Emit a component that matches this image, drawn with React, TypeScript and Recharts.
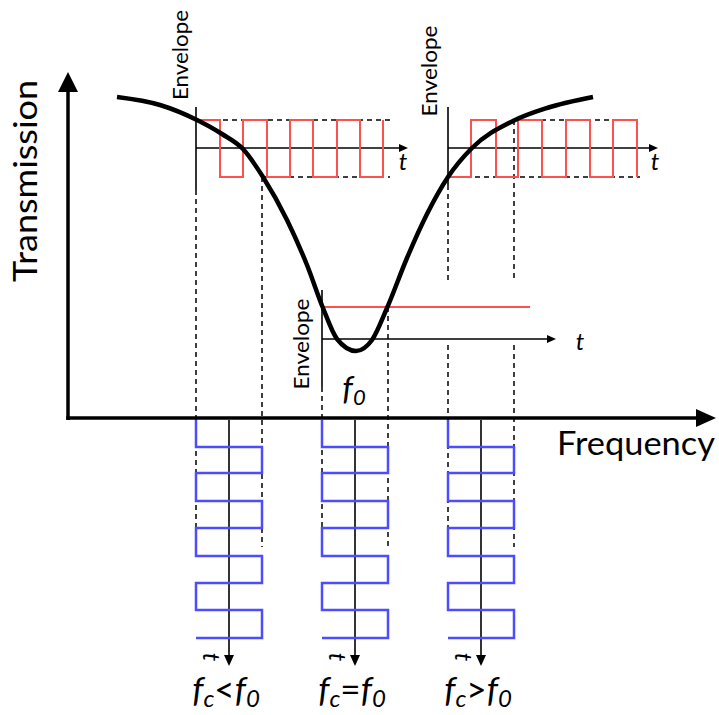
import { ComposedChart, XAxis, YAxis, Line, Scatter } from "recharts";

const W = 719;
const H = 715;

// diagram units: x to the right, y downward (same span as the picture)
const curveX = [117, 160, 197, 222, 243, 263, 287, 307, 323, 337, 356, 372, 387, 407, 427, 448, 472, 513, 547, 593];
const curveY = [97, 105, 120, 134, 149, 177, 220, 265, 308, 339, 351, 340, 308, 258, 214, 177, 148, 121, 108, 97];

// envelope insets
const envHigh = 120;
const envLow = 177;
const envAxisY = 148;
const edgesBelow = [220, 243, 267, 290, 313, 337, 360, 383]; // fc<f0, starts high
const edgesAbove = [471, 496, 518, 542, 566, 590, 613, 637]; // fc>f0, starts low
const steadyY = 307;
const steadyEnd = 530;

// carrier, time running downward
const blueRows = [420, 447, 473, 501, 528, 556, 583, 610, 638];
const colLeft = [196, 322, 448];
const colRight = [262, 388, 514];
const colAxis = [229, 355, 481];
const colSign = ["<", "=", ">"];

// [x, y1, y2]
const dashedV = [
  [196, 190, 557],
  [262, 177, 547],
  [322, 387, 557],
  [388, 307, 547],
  [448, 185, 280],
  [448, 345, 557],
  [514, 120, 280],
  [514, 345, 547],
];
// [x1, x2, y]
const dashedH = [
  [196, 390, envHigh],
  [262, 390, envLow],
  [514, 640, envHigh],
  [448, 640, envLow],
];

type P = { x: number; y: number };

function seg(x1: number, y1: number, x2: number, y2: number): P[] {
  return [{ x: x1, y: y1 }, { x: x2, y: y2 }];
}

function squareWave(x0: number, startHigh: boolean, edges: number[]): P[] {
  let high = startHigh;
  const pts: P[] = [{ x: x0, y: high ? envHigh : envLow }];
  edges.forEach((e) => {
    pts.push({ x: e, y: high ? envHigh : envLow });
    high = !high;
    pts.push({ x: e, y: high ? envHigh : envLow });
  });
  return pts;
}

function zigzag(left: number, right: number): P[] {
  let side = left;
  const pts: P[] = [{ x: left, y: blueRows[0] }];
  blueRows.slice(1).forEach((r) => {
    pts.push({ x: side, y: r });
    side = side === left ? right : left;
    pts.push({ x: side, y: r });
  });
  return pts;
}

const curve = curveX.map((x, i) => ({ x, y: curveY[i] }));

const thinAxes: P[][] = [
  seg(196, 107, 196, 190),
  seg(196, envAxisY, 402, envAxisY),
  seg(448, 107, 448, 185),
  seg(448, envAxisY, 652, envAxisY),
  seg(322, 290, 322, 387),
  seg(322, 339, 550, 339),
  ...colAxis.map((x) => seg(x, 420, x, 657)),
];

const arrows = [
  { x: 68, y: 72, dir: "up", len: 20, half: 10 },
  { x: 716, y: 418, dir: "right", len: 20, half: 9 },
  { x: 408, y: envAxisY, dir: "right", len: 9, half: 4 },
  { x: 658, y: envAxisY, dir: "right", len: 9, half: 4 },
  { x: 556, y: 339, dir: "right", len: 9, half: 4 },
  ...colAxis.map((x) => ({ x, y: 666, dir: "down", len: 11, half: 5 })),
];

const labels = [
  { x: 37, y: 181, text: "Transmission", size: 33, rot: -90, len: 202, italic: false },
  { x: 636, y: 455, text: "Frequency", size: 32, rot: 0, len: 158, italic: false },
  { x: 188, y: 55, text: "Envelope", size: 21, rot: -90, len: 90, italic: false },
  { x: 437, y: 71, text: "Envelope", size: 21, rot: -90, len: 91, italic: false },
  { x: 309, y: 344, text: "Envelope", size: 21, rot: -90, len: 91, italic: false },
  { x: 403, y: 170, text: "t", size: 24, rot: 0, len: 0, italic: true },
  { x: 655, y: 170, text: "t", size: 24, rot: 0, len: 0, italic: true },
  { x: 580, y: 350, text: "t", size: 24, rot: 0, len: 0, italic: true },
  ...colAxis.map((x) => ({ x: x - 17, y: 657, text: "t", size: 24, rot: 90, len: 0, italic: true })),
];

const formulas = [
  { x: 354, y: 400, main: "f", sub: "0", rest: "", size: 33 },
  ...colAxis.map((x, i) => ({ x: x - 3, y: 702, main: "f", sub: "c", rest: colSign[i], size: 35 })),
];

const font = "Lato, 'Open Sans', sans-serif";

function ArrowHead(props: any) {
  const { cx, cy, payload } = props;
  const { dir, len, half } = payload;
  let pts = "";
  if (dir === "up") pts = `${cx},${cy} ${cx - half},${cy + len} ${cx + half},${cy + len}`;
  if (dir === "down") pts = `${cx},${cy} ${cx - half},${cy - len} ${cx + half},${cy - len}`;
  if (dir === "right") pts = `${cx},${cy} ${cx - len},${cy - half} ${cx - len},${cy + half}`;
  return <polygon points={pts} fill="#000" />;
}

function Label(props: any) {
  const { cx, cy, payload } = props;
  return (
    <text
      x={cx}
      y={cy}
      textAnchor="middle"
      dominantBaseline={payload.rot === 90 ? "central" : undefined}
      fontFamily={font}
      fontSize={payload.size}
      fontStyle={payload.italic ? "italic" : "normal"}
      fill="#000"
      transform={payload.rot ? `rotate(${payload.rot} ${cx} ${cy})` : undefined}
      {...(payload.len ? { textLength: payload.len, lengthAdjust: "spacingAndGlyphs" } : {})}
    >
      {payload.text}
    </text>
  );
}

function Formula(props: any) {
  const { cx, cy, payload } = props;
  const s = payload.size;
  const sub = Math.round(s * 0.68);
  return (
    <text x={cx} y={cy} textAnchor="middle" fontFamily={font} fontStyle="italic" fontSize={s} fill="#000">
      <tspan>f</tspan>
      <tspan fontSize={sub} dy={5}>{payload.sub}</tspan>
      {payload.rest ? (
        <>
          <tspan dy={-5} fontStyle="normal">{payload.rest}</tspan>
          <tspan>f</tspan>
          <tspan fontSize={sub} dy={5}>0</tspan>
        </>
      ) : null}
    </text>
  );
}

function lineProps(key: string, data: P[], stroke: string, width: number, dash?: string) {
  return {
    key,
    data,
    dataKey: "y",
    type: "linear" as const,
    stroke,
    strokeWidth: width,
    strokeDasharray: dash,
    dot: false,
    activeDot: false,
    isAnimationActive: false,
    legendType: "none" as const,
  };
}

export default function App() {
  return (
    <div style={{ position: "absolute", left: 0, top: 0, width: W, height: H, background: "#fff" }}>
      <ComposedChart width={W} height={H} margin={{ top: 0, right: 0, bottom: 0, left: 0 }}>
        <XAxis hide type="number" dataKey="x" domain={[0, W]} allowDataOverflow />
        <YAxis hide type="number" dataKey="y" domain={[0, H]} reversed allowDataOverflow />

        {dashedV.map(([x, y1, y2], i) => (
          <Line {...lineProps(`dv${i}`, seg(x, y1, x, y2), "#000", 1.5, "5 4")} />
        ))}
        {dashedH.map(([x1, x2, y], i) => (
          <Line {...lineProps(`dh${i}`, seg(x1, y, x2, y), "#000", 1.5, "5 4")} />
        ))}

        {thinAxes.map((d, i) => (
          <Line {...lineProps(`ax${i}`, d, "#000", 1.6)} />
        ))}

        <Line {...lineProps("redBelow", squareWave(196, true, edgesBelow), "#ff5050", 2)} />
        <Line {...lineProps("redAbove", squareWave(448, false, edgesAbove), "#ff5050", 2)} />
        <Line {...lineProps("redSteady", seg(322, steadyY, steadyEnd, steadyY), "#ff5050", 2.2)} />

        {colLeft.map((l, i) => (
          <Line {...lineProps(`blue${i}`, zigzag(l, colRight[i]), "#4d4dff", 2.5)} />
        ))}

        <Line {...lineProps("curve", curve, "#000", 4.5)} type="monotone" />

        <Line {...lineProps("yMain", seg(68, 420, 68, 88), "#000", 3.5)} />
        <Line {...lineProps("xMain", seg(66.25, 418, 700, 418), "#000", 3.5)} />

        <Scatter data={arrows} shape={ArrowHead} isAnimationActive={false} legendType="none" />
        <Scatter data={labels} shape={Label} isAnimationActive={false} legendType="none" />
        <Scatter data={formulas} shape={Formula} isAnimationActive={false} legendType="none" />
      </ComposedChart>
    </div>
  );
}
